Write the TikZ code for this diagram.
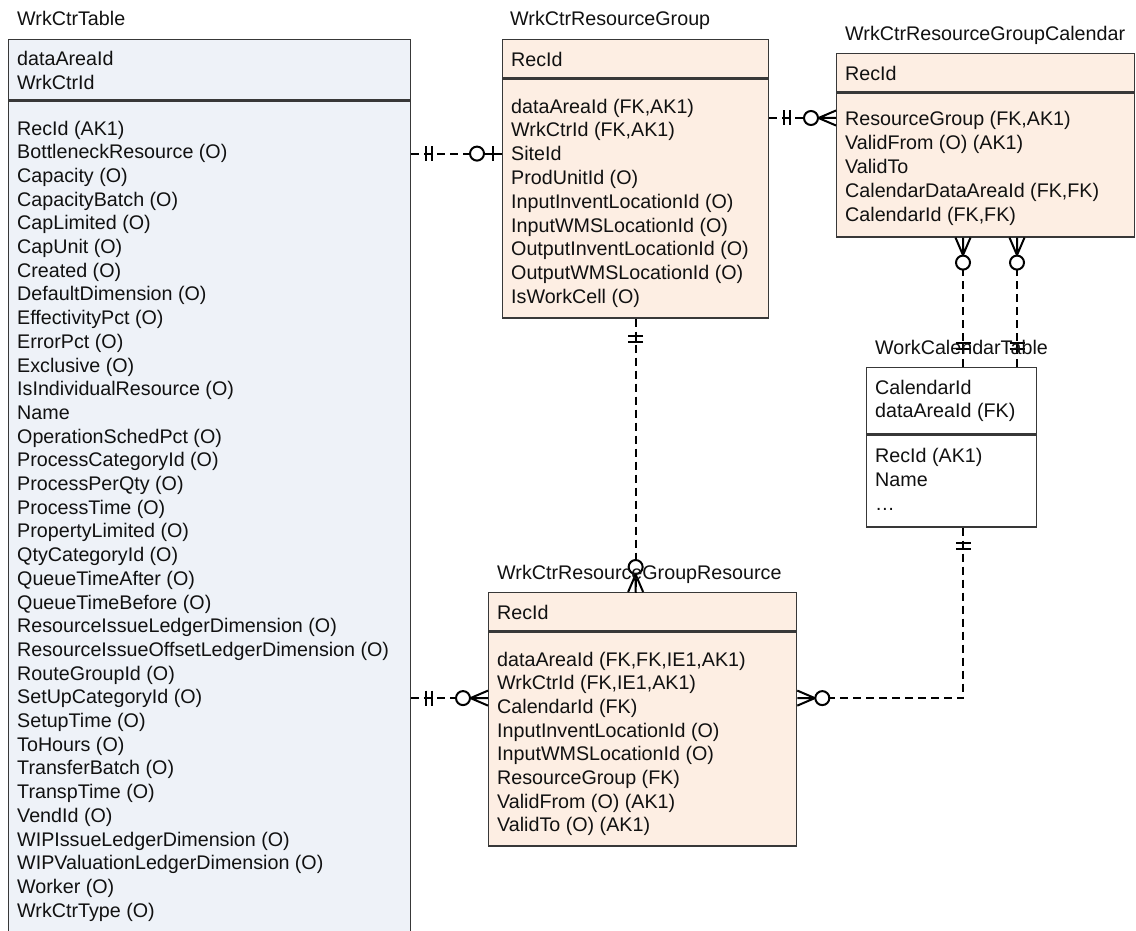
\documentclass[tikz,border=0pt]{standalone}
\usepackage{fontspec}
\setmainfont{Liberation Sans}
\usetikzlibrary{calc,decorations.markings}
\definecolor{Edge}{HTML}{383838}
\definecolor{Ink}{HTML}{111111}
\definecolor{BlueFill}{HTML}{EEF2F8}
\definecolor{PeachFill}{HTML}{FDEEE3}

\begin{document}
\begin{tikzpicture}[
    x={(1pt,0pt)}, y={(0pt,-1pt)},
    font=\fontsize{19.7pt}{23.7pt}\selectfont,
    text=Ink,
    tbl/.style={
        draw=Edge,
        line width=1.3pt,
        anchor=north west,
        inner sep=0pt
    },
    tname/.style={
        anchor=west,
        inner sep=0pt,
        text height=14.1pt,
        text depth=0pt
    },
    field/.style={
        anchor=west,
        inner sep=0pt,
        text height=14.1pt,
        text depth=0pt
    },
    rel/.style={
        draw=black,
        line width=2pt,
        dash pattern=on 8pt off 5pt
    },
    one start/.style={
        postaction={decorate, decoration={markings,
            mark=at position #1pt with {
                \draw[solid] (0,-7.5) -- (0,7.5) (6,-7.5) -- (6,7.5) (0,0) -- (6,0);}}}
    },
    one start/.default=15,
    zero one/.style={
        postaction={decorate, decoration={markings,
            mark=at position -25pt with {
                \draw[solid, fill=white] (0,0) circle (7);
                \draw[solid] (7,0) -- (25,0) (16,-7.5) -- (16,7.5);}}}
    },
    zero many/.style={
        postaction={decorate, decoration={markings,
            mark=at position -25pt with {
                \draw[solid, fill=white] (0,0) circle (7);
                \draw[solid] (7,0) -- (25,0) (7.5,0) -- (25,-7.5) (7.5,0) -- (25,7.5);}}}
    }
]

\useasboundingbox (0,0) rectangle (1136,931);
\clip (0,0) rectangle (1136,931);

% ===========================
% WrkCtrTable
% ===========================
\node[tbl, fill=BlueFill, minimum width=402pt, minimum height=60pt] (wctHead) at (8,39) {};
\node[tbl, fill=BlueFill, minimum width=402pt, minimum height=845pt] (wctBody) at (wctHead.south west) {};

\foreach \txt [count=\i from 0] in {dataAreaId, WrkCtrId}
    \node[field] (wctKey-\i) at (17,58+24*\i) {\txt};

\foreach \txt [count=\i from 0] in {RecId (AK1), BottleneckResource (O), Capacity (O),
    CapacityBatch (O), CapLimited (O), CapUnit (O), Created (O), DefaultDimension (O),
    EffectivityPct (O), ErrorPct (O), Exclusive (O), IsIndividualResource (O), Name,
    OperationSchedPct (O), ProcessCategoryId (O), ProcessPerQty (O), ProcessTime (O),
    PropertyLimited (O), QtyCategoryId (O), QueueTimeAfter (O), QueueTimeBefore (O),
    ResourceIssueLedgerDimension (O), ResourceIssueOffsetLedgerDimension (O),
    RouteGroupId (O), SetUpCategoryId (O), SetupTime (O), ToHours (O), TransferBatch (O),
    TranspTime (O), VendId (O), WIPIssueLedgerDimension (O), WIPValuationLedgerDimension (O),
    Worker (O), WrkCtrType (O)}
    \node[field] (wctRow-\i) at (17,128+23.7*\i) {\txt};

% ===========================
% WrkCtrResourceGroup
% ===========================
\node[tbl, fill=PeachFill, minimum width=266pt, minimum height=38pt] (grpHead) at (502,39) {};
\node[tbl, fill=PeachFill, minimum width=266pt, minimum height=239pt] (grpBody) at (grpHead.south west) {};

\node[field] (grpKey-0) at (511,59) {RecId};

\foreach \txt [count=\i from 0] in {{dataAreaId (FK,AK1)}, {WrkCtrId (FK,AK1)}, SiteId,
    ProdUnitId (O), InputInventLocationId (O), InputWMSLocationId (O),
    OutputInventLocationId (O), OutputWMSLocationId (O), IsWorkCell (O)}
    \node[field] (grpRow-\i) at (511,106+23.8*\i) {\txt};

% ===========================
% WrkCtrResourceGroupCalendar
% ===========================
\node[tbl, fill=PeachFill, minimum width=298pt, minimum height=38pt] (calHead) at (836,53) {};
\node[tbl, fill=PeachFill, minimum width=298pt, minimum height=144pt] (calBody) at (calHead.south west) {};

\node[field] (calKey-0) at (845,73) {RecId};

\foreach \txt [count=\i from 0] in {{ResourceGroup (FK,AK1)}, ValidFrom (O) (AK1), ValidTo,
    {CalendarDataAreaId (FK,FK)}, {CalendarId (FK,FK)}}
    \node[field] (calRow-\i) at (845,118+24*\i) {\txt};

% ===========================
% WorkCalendarTable
% ===========================
\node[tbl, fill=white, minimum width=170pt, minimum height=66pt] (wcalHead) at (866,367) {};
\node[tbl, fill=white, minimum width=170pt, minimum height=92pt] (wcalBody) at (wcalHead.south west) {};

\foreach \txt [count=\i from 0] in {CalendarId, dataAreaId (FK)}
    \node[field] (wcalKey-\i) at (875,387+23*\i) {\txt};

\foreach \txt [count=\i from 0] in {RecId (AK1), Name, \ldots}
    \node[field] (wcalRow-\i) at (875,455+24*\i) {\txt};

% ===========================
% WrkCtrResourceGroupResource
% ===========================
\node[tbl, fill=PeachFill, minimum width=308pt, minimum height=38pt] (resHead) at (488,592) {};
\node[tbl, fill=PeachFill, minimum width=308pt, minimum height=214pt] (resBody) at (resHead.south west) {};

\node[field] (resKey-0) at (497,612) {RecId};

\foreach \txt [count=\i from 0] in {{dataAreaId (FK,FK,IE1,AK1)}, {WrkCtrId (FK,IE1,AK1)},
    CalendarId (FK), InputInventLocationId (O), InputWMSLocationId (O),
    ResourceGroup (FK), ValidFrom (O) (AK1), ValidTo (O) (AK1)}
    \node[field] (resRow-\i) at (497,659+23.7*\i) {\txt};

% ===========================
% Relationships
% ===========================
\coordinate (linkA) at ($(calBody.south west)+(127,0)$);
\coordinate (linkB) at ($(calBody.south west)+(181,0)$);
\coordinate (resLink) at ($(resRow-1.west)!0.65!(resRow-2.west)$);

\draw[rel, one start, zero one] (grpRow-2.west -| wctBody.east) -- (grpRow-2.west -| grpBody.west);
\draw[rel, one start, zero many] (calRow-0.west -| grpBody.east) -- (calRow-0.west -| calBody.west);
\draw[rel, one start=17, zero many] (grpBody.south) -- (grpBody.south |- resHead.north);
\draw[rel, one start=18, zero many] (linkA |- wcalHead.north) -- (linkA);
\draw[rel, one start=18, zero many] (linkB |- wcalHead.north) -- (linkB);
\draw[rel, one start, zero many] (linkA |- wcalBody.south) |- (resLink -| resBody.east);
\draw[rel, one start, zero many] (resLink -| wctBody.east) -- (resLink -| resHead.west);

% Table names
\node[tname] (wctName) at (17,18) {WrkCtrTable};
\node[tname] (grpName) at (510,18) {WrkCtrResourceGroup};
\node[tname] (calName) at (845,33) {WrkCtrResourceGroupCalendar};
\node[tname] (wcalName) at (875,347) {WorkCalendarTable};
\node[tname] (resName) at (497,572) {WrkCtrResourceGroupResource};

\end{tikzpicture}
\end{document}
